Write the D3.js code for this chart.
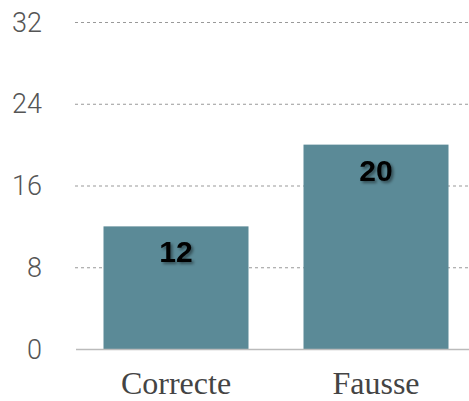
<!DOCTYPE html>
<html><head><meta charset="utf-8">
<script src="https://cdn.jsdelivr.net/npm/d3@7"></script>
<style>body{margin:0;background:#fff}svg{display:block}</style>
</head><body>
<svg id="c" width="469" height="401"></svg>
<script>
const categories = ["Correcte", "Fausse"];
const values = [12, 20];
const yTicks = [0, 8, 16, 24, 32];

const svg = d3.select("#c");
const defs = svg.append("defs");
const f = defs.append("filter").attr("id","sh").attr("x","-20%").attr("y","-20%").attr("width","150%").attr("height","150%");
f.append("feDropShadow").attr("dx",2).attr("dy",2).attr("stdDeviation",1.5).attr("flood-color","#000").attr("flood-opacity",0.45);

const x = d3.scaleBand().domain(categories).range([76, 476]).paddingInner(0.275).paddingOuter(0.1375);
const y = d3.scaleLinear().domain([0, 32]).range([349, 22]);

// grid
svg.append("g").selectAll("line").data(yTicks.filter(d=>d>0)).join("line")
  .attr("x1",75).attr("x2",469).attr("y1",d=>y(d)+0.5).attr("y2",d=>y(d)+0.5)
  .attr("stroke","#999").attr("stroke-dasharray","3,3").attr("stroke-width",1);

// y tick labels
svg.append("g").selectAll("text").data(yTicks).join("text")
  .attr("x",42).attr("y",d=>y(d)).attr("dy","0.36em").attr("text-anchor","end")
  .attr("font-family","Roboto, 'Liberation Sans', sans-serif").attr("font-size",27).attr("font-weight",300).attr("fill","#555")
  .text(d=>d);

// bars
svg.append("g").selectAll("rect").data(values).join("rect")
  .attr("x",(d,i)=>x(categories[i])).attr("width",x.bandwidth())
  .attr("y",d=>y(d)).attr("height",d=>y(0)-y(d)).attr("fill","#5b8a97");

// baseline
svg.append("line").attr("x1",76).attr("x2",469).attr("y1",y(0)+0.5).attr("y2",y(0)+0.5)
  .attr("stroke","#bbb").attr("stroke-width",1.5);

// value labels
svg.append("g").selectAll("text").data(values).join("text")
  .attr("x",(d,i)=>x(categories[i])+x.bandwidth()/2).attr("y",d=>y(d)+36)
  .attr("text-anchor","middle").attr("font-family","'Liberation Sans', Arial, sans-serif")
  .attr("font-weight","bold").attr("font-size",30).attr("fill","#000").attr("filter","url(#sh)")
  .text(d=>d);

// category labels
svg.append("g").selectAll("text").data(categories).join("text")
  .attr("x",d=>x(d)+x.bandwidth()/2).attr("y",394).attr("text-anchor","middle")
  .attr("font-family","'Liberation Serif', 'Times New Roman', serif").attr("font-size",32).attr("fill","#444")
  .text(d=>d);
</script>
</body></html>
